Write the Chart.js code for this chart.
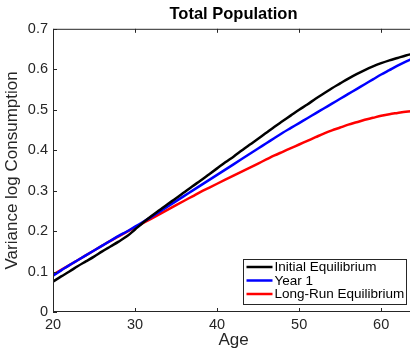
<!DOCTYPE html>
<html>
<head>
<meta charset="utf-8">
<script src="https://cdn.jsdelivr.net/npm/chart.js@4.4.1/dist/chart.umd.min.js"></script>
<style>
    html, body { margin: 0; padding: 0; background: #fff; overflow: hidden; }
    #wrap { width: 418px; height: 349px; }
</style>
</head>
<body>
<div id="wrap"><canvas id="popChart"></canvas></div>
<script>
// Data
const ages = [20, 21, 22, 23, 24, 25, 26, 27, 28, 29, 30, 31, 32, 33, 34, 35, 36, 37, 38, 39,
    40, 41, 42, 43, 44, 45, 46, 47, 48, 49, 50, 51, 52, 53, 54, 55, 56, 57, 58, 59,
    60, 61, 62, 63, 64];
const initialEq = [0.075, 0.088, 0.100, 0.113, 0.125, 0.137, 0.150, 0.162, 0.174, 0.187,
    0.204, 0.221, 0.237, 0.252, 0.267, 0.281, 0.296, 0.311, 0.325, 0.340,
    0.355, 0.370, 0.384, 0.399, 0.414, 0.428, 0.443, 0.458, 0.472, 0.486,
    0.500, 0.513, 0.527, 0.540, 0.553, 0.565, 0.577, 0.588, 0.598, 0.607,
    0.615, 0.622, 0.628, 0.634, 0.639];
const year1 = [0.090, 0.103, 0.116, 0.128, 0.140, 0.152, 0.164, 0.176, 0.188, 0.199,
    0.211, 0.223, 0.235, 0.248, 0.261, 0.274, 0.287, 0.300, 0.313, 0.326,
    0.339, 0.352, 0.365, 0.378, 0.391, 0.404, 0.417, 0.430, 0.443, 0.455,
    0.467, 0.479, 0.491, 0.503, 0.515, 0.527, 0.539, 0.551, 0.563, 0.575,
    0.587, 0.598, 0.609, 0.619, 0.628];
const longRunEq = [0.092, 0.104, 0.116, 0.128, 0.140, 0.152, 0.164, 0.176, 0.187, 0.198,
    0.209, 0.220, 0.231, 0.242, 0.253, 0.264, 0.275, 0.286, 0.297, 0.307,
    0.317, 0.327, 0.337, 0.347, 0.357, 0.367, 0.377, 0.387, 0.396, 0.405,
    0.414, 0.423, 0.432, 0.441, 0.449, 0.456, 0.463, 0.469, 0.475, 0.480,
    0.485, 0.489, 0.492, 0.495, 0.497];
const seriesNames = ['Initial Equilibrium', 'Year 1', 'Long-Run Equilibrium'];
const xTicks = [20, 30, 40, 50, 60];
const yTicks = [0, 0.1, 0.2, 0.3, 0.4, 0.5, 0.6, 0.7];

const axisColor = '#262626';
const fontFamily = '"Liberation Sans", Arial, Helvetica, sans-serif';

// inward ticks + box, like matlab
const frameAndTicks = {
    id: 'frameAndTicks',
    afterDatasetsDraw(chart) {
        const ctx = chart.ctx;
        const a = chart.chartArea;
        const x = chart.scales.x;
        const y = chart.scales.y;
        const len = 4;
        ctx.save();
        ctx.strokeStyle = axisColor;
        ctx.lineWidth = 1;
        ctx.beginPath();
        ctx.rect(a.left + 0.5, a.top + 0.5, a.right - a.left - 1, a.bottom - a.top - 1);
        xTicks.forEach(v => {
            const px = Math.round(x.getPixelForValue(v)) + 0.5;
            ctx.moveTo(px, a.bottom);
            ctx.lineTo(px, a.bottom - len);
            ctx.moveTo(px, a.top);
            ctx.lineTo(px, a.top + len);
        });
        yTicks.forEach(v => {
            const py = Math.round(y.getPixelForValue(v)) + 0.5;
            ctx.moveTo(a.left, py);
            ctx.lineTo(a.left + len, py);
            ctx.moveTo(a.right, py);
            ctx.lineTo(a.right - len, py);
        });
        ctx.stroke();
        ctx.restore();
    }
};

// legend box drawn inside the plot, lower right
const insideLegend = {
    id: 'insideLegend',
    afterDraw(chart) {
        const ctx = chart.ctx;
        const box = { x: 243.5, y: 259.5, w: 163, h: 45 };
        const rowH = 13.5;
        ctx.save();
        ctx.fillStyle = '#fff';
        ctx.fillRect(box.x, box.y, box.w, box.h);
        ctx.strokeStyle = axisColor;
        ctx.lineWidth = 1;
        ctx.strokeRect(box.x, box.y, box.w, box.h);
        ctx.font = '13.5px ' + fontFamily;
        ctx.textBaseline = 'middle';
        chart.data.datasets.forEach((ds, i) => {
            const cy = box.y + 7.5 + i * rowH;
            ctx.strokeStyle = ds.borderColor;
            ctx.lineWidth = 2.5;
            ctx.beginPath();
            ctx.moveTo(box.x + 3, cy);
            ctx.lineTo(box.x + 29, cy);
            ctx.stroke();
            ctx.fillStyle = '#000';
            ctx.fillText(ds.label, box.x + 31, cy + 0.5);
        });
        ctx.restore();
    }
};

const toPoints = vals => vals.map((v, i) => ({ x: ages[i], y: v }));

new Chart(document.getElementById('popChart'), {
    type: 'line',
    data: {
        datasets: [
            { label: seriesNames[0], data: toPoints(initialEq), borderColor: '#000000' },
            { label: seriesNames[1], data: toPoints(year1), borderColor: '#0000ff' },
            { label: seriesNames[2], data: toPoints(longRunEq), borderColor: '#ff0000' }
        ]
    },
    options: {
        responsive: true,
        maintainAspectRatio: false,
        animation: false,
        devicePixelRatio: 1,
        layout: { padding: { right: 4, top: 0, bottom: 0, left: 0 } },
        elements: {
            line: { borderWidth: 2.5, cubicInterpolationMode: 'monotone', fill: false },
            point: { radius: 0 }
        },
        plugins: {
            legend: { display: false },
            tooltip: { enabled: false },
            title: {
                display: true,
                fullSize: false,
                text: 'Total Population',
                color: '#000',
                font: { family: fontFamily, size: 16.5, weight: 'bold', lineHeight: 1.2 },
                padding: { top: 5, bottom: 4 }
            }
        },
        scales: {
            x: {
                type: 'linear',
                min: 20,
                max: 64,
                grid: { display: false, drawTicks: false },
                border: { display: false },
                afterBuildTicks: s => { s.ticks = xTicks.map(v => ({ value: v })); },
                afterFit: s => { s.height = 37; },
                ticks: {
                    color: axisColor,
                    padding: 4,
                    maxRotation: 0,
                    font: { family: fontFamily, size: 14.5 }
                },
                title: {
                    display: true,
                    text: 'Age',
                    color: axisColor,
                    padding: 0,
                    font: { family: fontFamily, size: 17, lineHeight: 1 }
                }
            },
            y: {
                min: 0,
                max: 0.7,
                grid: { display: false, drawTicks: false },
                border: { display: false },
                afterBuildTicks: s => { s.ticks = yTicks.map(v => ({ value: v })); },
                afterFit: s => { s.width = 53; },
                ticks: {
                    color: axisColor,
                    padding: 5,
                    font: { family: fontFamily, size: 14.5 },
                    callback: v => v === 0 ? '0' : v.toFixed(1)
                },
                title: {
                    display: true,
                    text: 'Variance log Consumption',
                    color: axisColor,
                    padding: { top: 4, bottom: 0 },
                    font: { family: fontFamily, size: 17, lineHeight: 1 }
                }
            }
        }
    },
    plugins: [frameAndTicks, insideLegend]
});
</script>
</body>
</html>
